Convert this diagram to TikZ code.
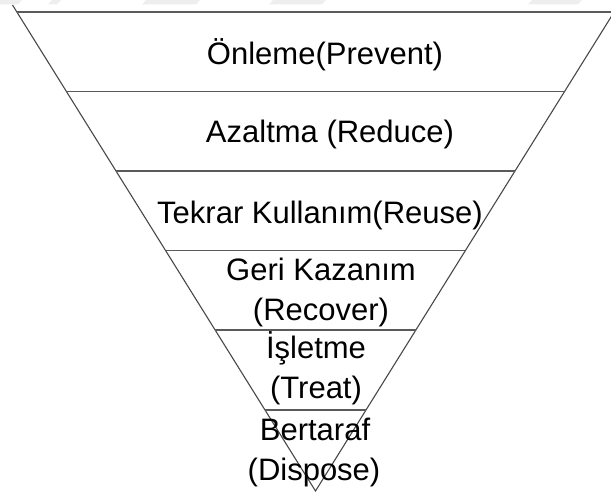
\documentclass[tikz,border=0pt]{standalone}
\usepackage{fontspec}
\setmainfont{Liberation Sans}
\usetikzlibrary{calc}
\definecolor{edgegray}{HTML}{484848}
\definecolor{rulegray}{HTML}{5A5A5A}
\definecolor{faintgray}{HTML}{EEEEEE}
\begin{document}
\begin{tikzpicture}[x=1pt,y=-1pt,
  edge/.style={draw=edgegray,line width=1.1pt},
  divider/.style={draw=rulegray,line width=1.5pt},
  label/.style={anchor=base,inner sep=0pt,font=\fontsize{31}{40}\selectfont,align=center},
  shade/.style={fill=faintgray,draw=none}]
\useasboundingbox (0,0) rectangle (611,492);
\clip (0,0) rectangle (611,492);

% faint strips along the top margin
\fill[shade] (0,0) -- (22,0) -- (18,4.5) -- (0,4.5) -- cycle;
\fill[shade] (52,0) -- (61,0) -- (57,4.5) -- (48,4.5) -- cycle;
\fill[shade] (146,0) -- (200,0) -- (196,4.5) -- (142,4.5) -- cycle;
\fill[shade] (273,0) -- (326,0) -- (322,4.5) -- (269,4.5) -- cycle;
\fill[shade] (532,0) -- (582,0) -- (578,4.5) -- (528,4.5) -- cycle;

% inverted triangle
\coordinate (tl) at (12.5,5);
\coordinate (tr) at (618.5,5);
\coordinate (apex) at (315.5,491);
\draw[edge] (tl) -- (apex) -- (tr);

% level dividers
\foreach \yy [count=\i] in {12,91.5,171,250.5,330,410}{
  \coordinate (L\i) at ($(tl)!{(\yy-5)/486}!(apex)$);
  \coordinate (R\i) at ($(tr)!{(\yy-5)/486}!(apex)$);
  \draw[divider] (L\i) -- (R\i);
}

% level labels
\node[label] (prevent) at (325,65) {Önleme(Prevent)};
\node[label] (reduce) at (330,143) {Azaltma (Reduce)};
\node[label] (reuse) at (320,223) {Tekrar Kullanım(Reuse)};
\node[label] (recover1) at (321,280) {Geri Kazanım};
\node[label] (recover2) at (321,320) {(Recover)};
\node[label] (treat1) at (316,358) {İşletme};
\node[label] (treat2) at (316,398) {(Treat)};
\node[label] (dispose1) at (315,440) {Bertaraf};
\node[label] (dispose2) at (314,480) {(Dispose)};
\end{tikzpicture}
\end{document}
